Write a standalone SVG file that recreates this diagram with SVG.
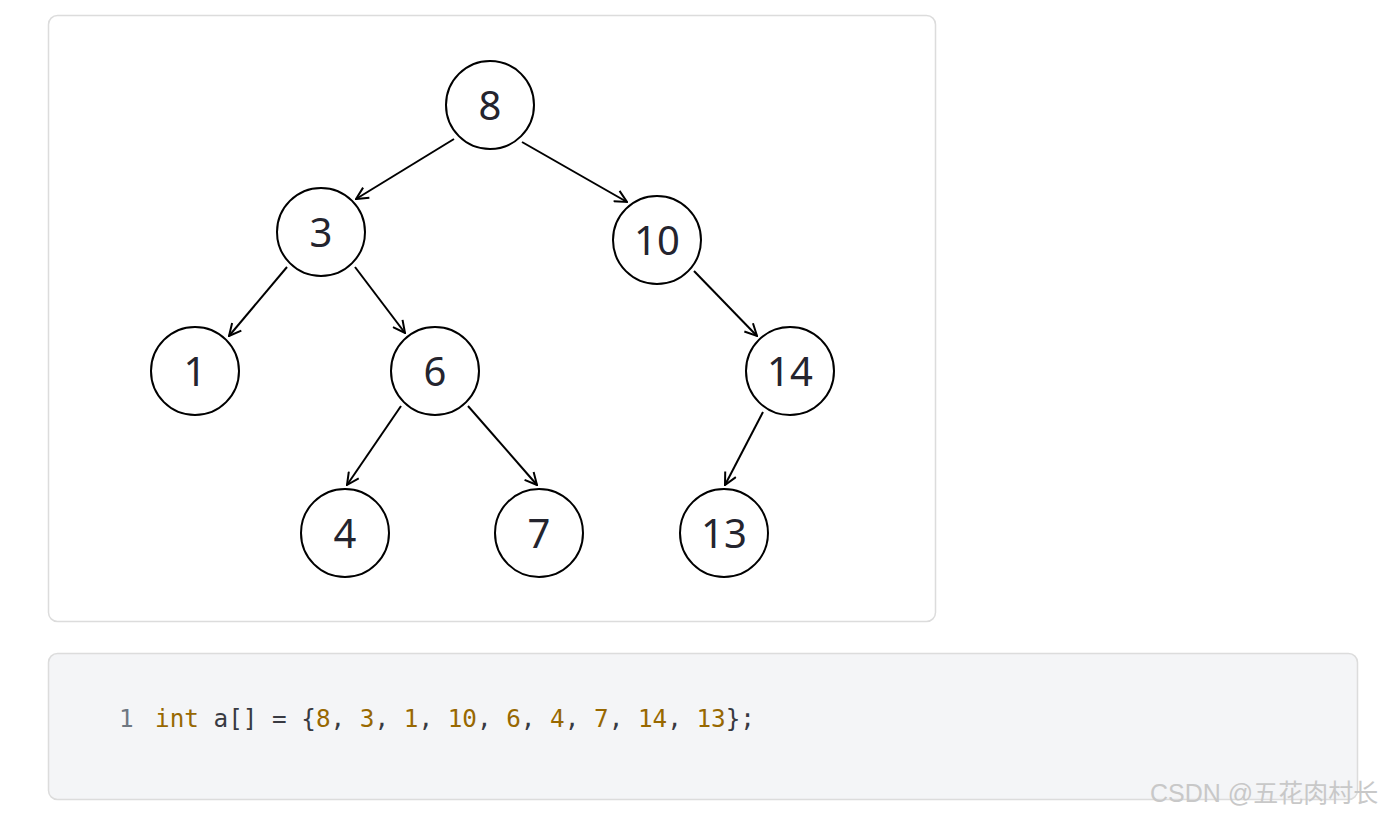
<svg xmlns="http://www.w3.org/2000/svg" width="1387" height="816" viewBox="0 0 1387 816">
<defs>
<style>
.panel{fill:#fff;stroke:#dcdcdc;stroke-width:1.5}
.code{fill:#f4f5f7;stroke:#dcdcdc;stroke-width:1.5}
.node circle{fill:#fff;stroke:#000;stroke-width:2}
.node text{font-family:"Noto Sans","Open Sans",sans-serif;font-size:40px;fill:#24242e;text-anchor:middle}
.edge{stroke:#000;stroke-width:2;fill:none;marker-end:url(#arr)}
.mono{font-family:"DejaVu Sans Mono","Liberation Mono",monospace;font-size:24.3px;fill:#383a42}
.num{fill:#986801}
.ln{fill:#6e7781}
.wm{font-family:"Liberation Sans","Noto Sans CJK SC",sans-serif;font-size:25px;fill:#c8c8c8}
</style>
<marker id="arr" viewBox="0 0 14 14" refX="13" refY="7" markerWidth="14" markerHeight="14" markerUnits="userSpaceOnUse" orient="auto">
<path d="M1,1 L13,7 L1,13" fill="none" stroke="#000" stroke-width="2"/>
</marker>
</defs>
<rect class="panel" x="48.5" y="15.5" width="887" height="606" rx="9"/>
<rect class="code" x="48.5" y="653.5" width="1309" height="146" rx="9"/>
<g id="connectors">
<line class="edge" x1="454" y1="139" x2="356" y2="199"/>
<line class="edge" x1="522" y1="142" x2="627" y2="202"/>
<line class="edge" x1="287" y1="267" x2="229" y2="336"/>
<line class="edge" x1="355" y1="267" x2="405" y2="333"/>
<line class="edge" x1="694" y1="271" x2="757" y2="336"/>
<line class="edge" x1="401" y1="406" x2="347" y2="485"/>
<line class="edge" x1="468" y1="406" x2="537" y2="485"/>
<line class="edge" x1="763" y1="412" x2="725" y2="485"/>
</g>
<g id="n8" class="node"><circle cx="490" cy="105" r="44"/><text x="490" y="120">8</text></g>
<g id="n3" class="node"><circle cx="321" cy="232" r="44"/><text x="321" y="247">3</text></g>
<g id="n10" class="node"><circle cx="657" cy="240" r="44"/><text x="657" y="255">10</text></g>
<g id="n1" class="node"><circle cx="195" cy="371" r="44"/><text x="195" y="386">1</text></g>
<g id="n6" class="node"><circle cx="435" cy="371" r="44"/><text x="435" y="386">6</text></g>
<g id="n14" class="node"><circle cx="790" cy="371" r="44"/><text x="790" y="386">14</text></g>
<g id="n4" class="node"><circle cx="345" cy="533" r="44"/><text x="345" y="548">4</text></g>
<g id="n7" class="node"><circle cx="539" cy="533" r="44"/><text x="539" y="548">7</text></g>
<g id="n13" class="node"><circle cx="724" cy="533" r="44"/><text x="724" y="548">13</text></g>
<text class="mono ln" x="119" y="727">1</text>
<text class="mono" x="155" y="727" xml:space="preserve"><tspan class="num">int</tspan> a[] = {<tspan class="num">8</tspan>, <tspan class="num">3</tspan>, <tspan class="num">1</tspan>, <tspan class="num">10</tspan>, <tspan class="num">6</tspan>, <tspan class="num">4</tspan>, <tspan class="num">7</tspan>, <tspan class="num">14</tspan>, <tspan class="num">13</tspan>};</text>
<text class="wm" x="1150" y="802">CSDN @五花肉村长</text>
</svg>
